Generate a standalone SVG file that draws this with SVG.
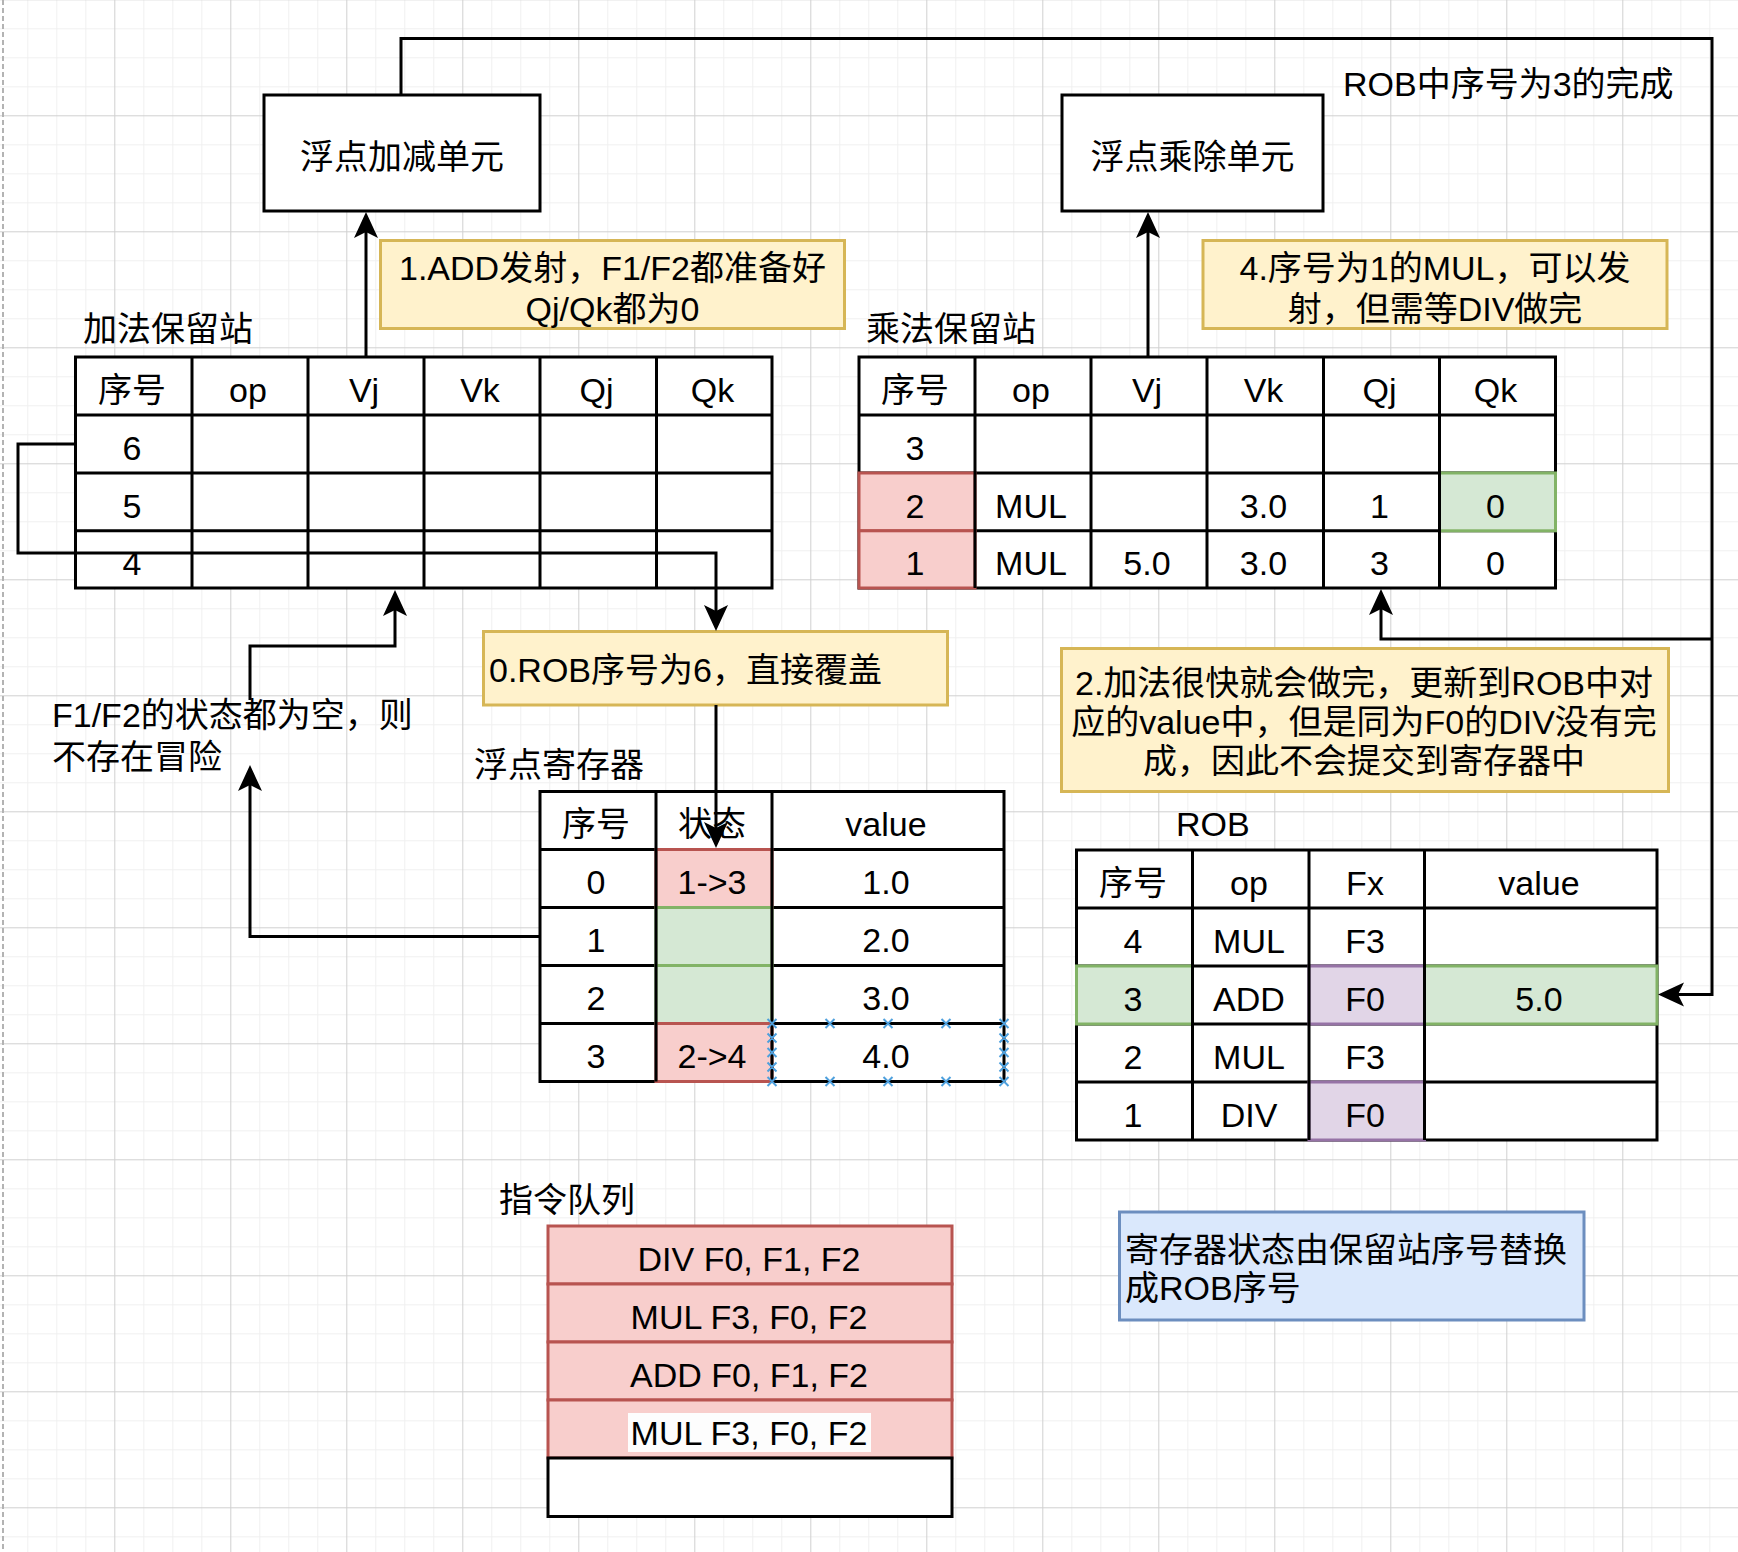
<svg xmlns="http://www.w3.org/2000/svg" width="1738" height="1552" viewBox="0 0 1738 1552">
<style>
.t{font-family:"Liberation Sans","Noto Sans CJK SC",sans-serif;font-size:34px;fill:#000}
.c{text-anchor:middle}
.bg{fill:#fff;stroke:none}
.ln{stroke:#000;stroke-width:3;fill:none}
.box{fill:#fff;stroke:#000;stroke-width:3}
.red{fill:#f8cecc;stroke:#b85450;stroke-width:3}
.green{fill:#d5e8d4;stroke:#82b366;stroke-width:3}
.purple{fill:#e1d5e7;stroke:#9673a6;stroke-width:3}
.yellow{fill:#fff2cc;stroke:#d6b656;stroke-width:3}
.blue{fill:#dae8fc;stroke:#6c8ebf;stroke-width:3}
.conn{fill:none;stroke:#000;stroke-width:3;marker-end:url(#arr)}
.sel{stroke:#4ea0dd;stroke-width:2;fill:none}
</style>
<defs>
<pattern id="grid" x="-1.7" y="-0.7" width="116" height="116" patternUnits="userSpaceOnUse">
<path d="M29.5 0V116M58.5 0V116M87.5 0V116M0 29.5H116M0 58.5H116M0 87.5H116" stroke="#f0f0f0" stroke-width="1"/>
<path d="M0.5 0V116M0 0.5H116" stroke="#d0d0d0" stroke-width="1"/>
</pattern>
<marker id="arr" viewBox="-7 -13 28 26" refX="0" refY="0" markerWidth="28" markerHeight="26" markerUnits="userSpaceOnUse" orient="auto">
<path d="M20,0 L-6,-12 L0,0 L-6,12 Z" fill="#000"/>
</marker>
</defs>
<rect x="0" y="0" width="1738" height="1552" fill="#fff"/>
<rect x="0" y="0" width="1738" height="1552" fill="url(#grid)"/>
<line x1="3" y1="0" x2="3" y2="1552" stroke="#b3b3b3" stroke-width="2" stroke-dasharray="5 3"/>

<g id="add-unit">
<rect class="box" x="264" y="95" width="276" height="116"/>
<text class="t c" x="402" y="169">浮点加减单元</text>
</g>
<g id="mul-unit">
<rect class="box" x="1062" y="95" width="261" height="116"/>
<text class="t c" x="1192.5" y="169">浮点乘除单元</text>
</g>
<g id="rob-done-label">
<text class="t" x="1343" y="96">ROB中序号为3的完成</text>
</g>

<g id="note1">
<rect class="yellow" x="380.5" y="240.5" width="464" height="88"/>
<text class="t c" x="612.5" y="279.5">1.ADD发射，F1/F2都准备好</text>
<text class="t c" x="612.5" y="320.5">Qj/Qk都为0</text>
</g>
<g id="note4">
<rect class="yellow" x="1203" y="240.5" width="464" height="88"/>
<text class="t c" x="1435" y="280">4.序号为1的MUL，可以发</text>
<text class="t c" x="1435" y="320.5">射，但需等DIV做完</text>
</g>

<g id="add-rs">
<text class="t" x="83" y="341">加法保留站</text>
<rect class="bg" x="75.5" y="357" width="696.5" height="231"/>
<path class="ln" d="M75.5 357H772V588H75.5ZM75.5 415H772M75.5 473H772M75.5 530.8H772M192 357V588M308 357V588M424 357V588M540 357V588M656.5 357V588"/>
<text class="t c" x="132" y="401.5">序号</text>
<text class="t c" x="248" y="401.5">op</text>
<text class="t c" x="364" y="401.5">Vj</text>
<text class="t c" x="480" y="401.5">Vk</text>
<text class="t c" x="596.5" y="401.5">Qj</text>
<text class="t c" x="712.5" y="401.5">Qk</text>
<text class="t c" x="132" y="459.5">6</text>
<text class="t c" x="132" y="517.5">5</text>
<text class="t c" x="132" y="575.3">4</text>
</g>

<g id="mul-rs">
<text class="t" x="866" y="341">乘法保留站</text>
<rect class="bg" x="859" y="357" width="696.5" height="231"/>
<path class="ln" d="M859 357H1555.5V588H859ZM859 415H1555.5M859 473H1555.5M859 530.8H1555.5"/>
<rect class="red" x="859" y="473" width="116" height="57.8"/>
<rect class="red" x="859" y="530.8" width="116" height="57.2"/>
<rect class="green" x="1439.5" y="473" width="116" height="57.8"/>
<path class="ln" d="M975 357V588M1091 357V588M1207 357V588M1323.5 357V588M1439.5 357V588"/>
<text class="t c" x="915" y="401.5">序号</text>
<text class="t c" x="1031" y="401.5">op</text>
<text class="t c" x="1147" y="401.5">Vj</text>
<text class="t c" x="1263.5" y="401.5">Vk</text>
<text class="t c" x="1379.5" y="401.5">Qj</text>
<text class="t c" x="1495.5" y="401.5">Qk</text>
<text class="t c" x="915" y="459.5">3</text>
<text class="t c" x="915" y="517.5">2</text>
<text class="t c" x="1031" y="517.5">MUL</text>
<text class="t c" x="1263.5" y="517.5">3.0</text>
<text class="t c" x="1379.5" y="517.5">1</text>
<text class="t c" x="1495.5" y="517.5">0</text>
<text class="t c" x="915" y="575.3">1</text>
<text class="t c" x="1031" y="575.3">MUL</text>
<text class="t c" x="1147" y="575.3">5.0</text>
<text class="t c" x="1263.5" y="575.3">3.0</text>
<text class="t c" x="1379.5" y="575.3">3</text>
<text class="t c" x="1495.5" y="575.3">0</text>
</g>

<g id="note0">
<rect class="yellow" x="483.5" y="631.5" width="464" height="73.5"/>
<text class="t" x="489" y="682">0.ROB序号为6，直接覆盖</text>
</g>

<g id="hazard-label">
<text class="t" x="52" y="727">F1/F2的状态都为空，则</text>
<text class="t" x="52" y="769">不存在冒险</text>
</g>

<g id="note2">
<rect class="yellow" x="1061.5" y="648.5" width="607" height="143"/>
<text class="t c" x="1364" y="695">2.加法很快就会做完，更新到ROB中对</text>
<text class="t c" x="1364" y="734">应的value中，但是同为F0的DIV没有完</text>
<text class="t c" x="1364" y="773">成，因此不会提交到寄存器中</text>
</g>

<g id="fp-reg">
<text class="t" x="474" y="777">浮点寄存器</text>
<rect class="bg" x="540" y="791.5" width="464" height="290"/>
<path class="ln" d="M540 791.5H1004V1081.5H540ZM540 849.5H1004M540 907.5H1004M540 965.5H1004M540 1023.5H1004"/>
<rect class="red" x="656" y="849.5" width="116" height="58"/>
<rect class="green" x="656" y="907.5" width="116" height="58"/>
<rect class="green" x="656" y="965.5" width="116" height="58"/>
<rect class="red" x="656" y="1023.5" width="116" height="58"/>
<path class="ln" d="M656 791.5V1081.5M772 791.5V1081.5"/>
<text class="t c" x="596" y="836">序号</text>
<text class="t c" x="712" y="836">状态</text>
<text class="t c" x="886" y="836">value</text>
<text class="t c" x="596" y="894">0</text>
<text class="t c" x="712" y="894">1-&gt;3</text>
<text class="t c" x="886" y="894">1.0</text>
<text class="t c" x="596" y="952">1</text>
<text class="t c" x="886" y="952">2.0</text>
<text class="t c" x="596" y="1010">2</text>
<text class="t c" x="886" y="1010">3.0</text>
<text class="t c" x="596" y="1068">3</text>
<text class="t c" x="712" y="1068">2-&gt;4</text>
<text class="t c" x="886" y="1068">4.0</text>
<path class="sel" d="M767.5 1019l9 9m0-9l-9 9M825.5 1019l9 9m0-9l-9 9M883.5 1019l9 9m0-9l-9 9M941.5 1019l9 9m0-9l-9 9M999.5 1019l9 9m0-9l-9 9M767.5 1077l9 9m0-9l-9 9M825.5 1077l9 9m0-9l-9 9M883.5 1077l9 9m0-9l-9 9M941.5 1077l9 9m0-9l-9 9M999.5 1077l9 9m0-9l-9 9M767.5 1033.5l9 9m0-9l-9 9M767.5 1048l9 9m0-9l-9 9M767.5 1062.5l9 9m0-9l-9 9M999.5 1033.5l9 9m0-9l-9 9M999.5 1048l9 9m0-9l-9 9M999.5 1062.5l9 9m0-9l-9 9"/>
</g>

<g id="rob">
<text class="t" x="1176" y="836">ROB</text>
<rect class="bg" x="1076.5" y="850" width="580.5" height="290"/>
<path class="ln" d="M1076.5 850H1657V1140H1076.5ZM1076.5 908H1657M1076.5 966H1657M1076.5 1024H1657M1076.5 1082H1657"/>
<rect class="green" x="1076.5" y="966" width="116" height="58"/>
<rect class="green" x="1424.5" y="966" width="232.5" height="58"/>
<rect class="purple" x="1309" y="966" width="115.5" height="58"/>
<rect class="purple" x="1309" y="1082" width="115.5" height="58"/>
<path class="ln" d="M1192.5 850V1140M1309 850V1140M1424.5 850V1140"/>
<text class="t c" x="1133" y="894.5">序号</text>
<text class="t c" x="1249" y="894.5">op</text>
<text class="t c" x="1365" y="894.5">Fx</text>
<text class="t c" x="1539" y="894.5">value</text>
<text class="t c" x="1133" y="952.5">4</text>
<text class="t c" x="1249" y="952.5">MUL</text>
<text class="t c" x="1365" y="952.5">F3</text>
<text class="t c" x="1133" y="1010.5">3</text>
<text class="t c" x="1249" y="1010.5">ADD</text>
<text class="t c" x="1365" y="1010.5">F0</text>
<text class="t c" x="1539" y="1010.5">5.0</text>
<text class="t c" x="1133" y="1068.5">2</text>
<text class="t c" x="1249" y="1068.5">MUL</text>
<text class="t c" x="1365" y="1068.5">F3</text>
<text class="t c" x="1133" y="1126.5">1</text>
<text class="t c" x="1249" y="1126.5">DIV</text>
<text class="t c" x="1365" y="1126.5">F0</text>
</g>

<g id="queue">
<text class="t" x="499" y="1212">指令队列</text>
<rect class="red" x="548" y="1226" width="404" height="58"/>
<rect class="red" x="548" y="1284" width="404" height="58"/>
<rect class="red" x="548" y="1342" width="404" height="58"/>
<rect class="red" x="548" y="1400" width="404" height="58"/>
<rect class="box" x="548" y="1458" width="404" height="58.5"/>
<rect x="628" y="1413" width="243" height="39" fill="#fdfdfd"/>
<text class="t c" x="749" y="1270.5">DIV F0, F1, F2</text>
<text class="t c" x="749" y="1328.5">MUL F3, F0, F2</text>
<text class="t c" x="749" y="1386.5">ADD F0, F1, F2</text>
<text class="t c" x="749" y="1444.5">MUL F3, F0, F2</text>
</g>

<g id="note-blue">
<rect class="blue" x="1119.5" y="1212" width="464.5" height="108"/>
<text class="t" x="1125" y="1262">寄存器状态由保留站序号替换</text>
<text class="t" x="1125" y="1300">成ROB序号</text>
</g>

<g id="connectors">
<path class="conn" d="M366 357V232"/>
<path class="conn" d="M1148 357V232"/>
<path class="conn" d="M401 95V38.5H1712V994.5H1678"/>
<path class="conn" d="M1712 639H1381V609"/>
<path class="conn" d="M75.5 444H18V553H716V611"/>
<path class="conn" d="M716 705V828"/>
<path class="conn" d="M540 936.5H250V785"/>
<path class="conn" d="M250 700V646H395V610"/>
</g>
</svg>
